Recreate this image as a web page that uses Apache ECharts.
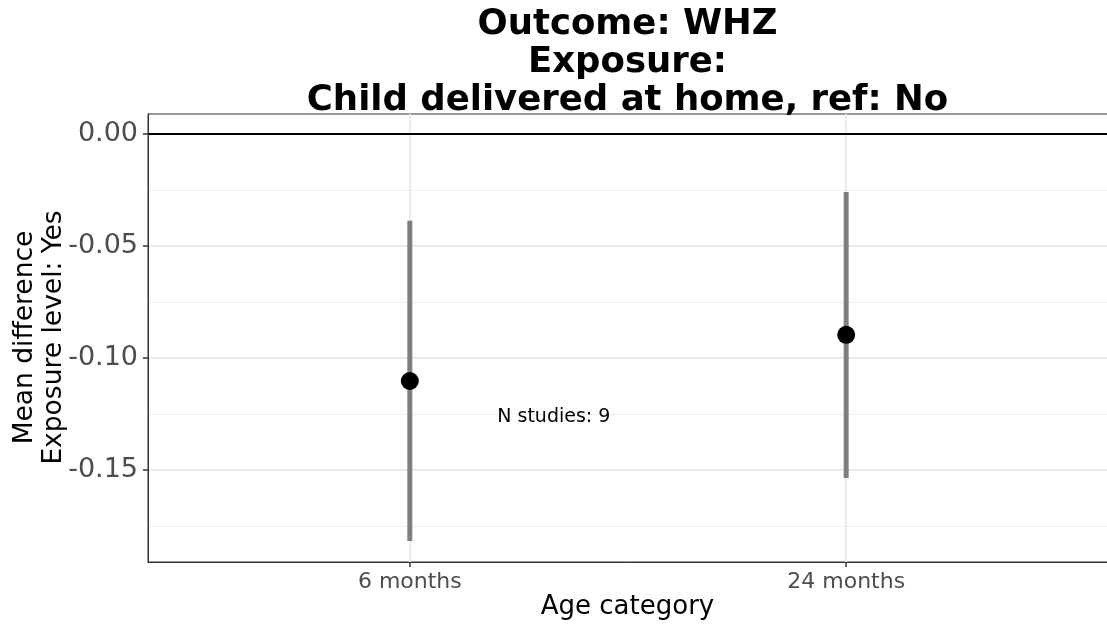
<!DOCTYPE html>
<html><head><meta charset="utf-8">
<script src="https://cdn.jsdelivr.net/npm/echarts@6/dist/echarts.min.js"></script>
<style>html,body{margin:0;padding:0;background:#fff}#c{width:1107px;height:626px}</style>
</head><body><div id="c"></div>
<script>
// ---- data ----
const categories = ['6 months', '24 months'];
const categoryPositions = [1, 2];
const pointEstimates = [-0.1103, -0.0897];
const ciLower = [-0.1817, -0.1536];
const ciUpper = [-0.0388, -0.0259];
const yTickValues = [0, -0.05, -0.10, -0.15];
const yMinorValues = [-0.025, -0.075, -0.125, -0.175];
const referenceLine = [0];
const annotationText = 'N studies: 9';
const annotationPos = [1.33, -0.1262];
const titleLines = ['Outcome: WHZ', 'Exposure:', 'Child delivered at home, ref: No'];
const yAxisTitleLines = ['Mean difference', 'Exposure level: Yes'];
const xAxisTitle = 'Age category';

const FONT = 'DejaVu Sans';
const chart = echarts.init(document.getElementById('c'), null, {renderer: 'canvas'});

const option = {
  backgroundColor: '#ffffff',
  animation: false,
  grid: {
    left: 148, right: -1, top: 114, bottom: 64,
    show: true, borderColor: '#333333', borderWidth: 1, backgroundColor: '#ffffff',
    containLabel: false, outerBoundsMode: 'none'
  },
  xAxis: {
    type: 'value', min: 0.4, max: 2.6, z: 10,
    axisLine: {show: true, onZero: false, lineStyle: {color: '#333333', width: 1}},
    axisTick: {show: true, inside: false, length: 5, customValues: categoryPositions, lineStyle: {color: '#333333', width: 1.5}},
    axisLabel: {show: true, customValues: categoryPositions, margin: 9,
      formatter: v => categories[categoryPositions.indexOf(v)] || '',
      color: '#4d4d4d', fontFamily: FONT, fontSize: 22},
    splitLine: {show: false}, minorSplitLine: {show: false}
  },
  yAxis: {
    type: 'value', min: -0.1911, max: 0.0089, z: 10,
    axisLine: {show: true, onZero: false, lineStyle: {color: '#333333', width: 1}},
    axisTick: {show: true, inside: false, length: 5, customValues: yTickValues, lineStyle: {color: '#333333', width: 1.5}},
    axisLabel: {show: true, customValues: yTickValues, margin: 10,
      formatter: v => v.toFixed(2),
      color: '#4d4d4d', fontFamily: FONT, fontSize: 27},
    splitLine: {show: false}, minorSplitLine: {show: false}
  },
  graphic: [
    {type: 'text', x: 627.5, y: 63, z: 100,
      style: {text: titleLines.join('\n'), fontFamily: FONT, fontWeight: 'bold', fontSize: 35.5,
        lineHeight: 38, align: 'center', verticalAlign: 'middle', fill: '#000000'}},
    {type: 'text', x: 40, y: 337.5, rotation: Math.PI / 2, z: 100,
      style: {text: yAxisTitleLines.join('\n'), fontFamily: FONT, fontSize: 26.5,
        lineHeight: 29, align: 'center', verticalAlign: 'middle', fill: '#000000'}},
    {type: 'text', x: 627.5, y: 607, z: 100,
      style: {text: xAxisTitle, fontFamily: FONT, fontSize: 26,
        align: 'center', verticalAlign: 'middle', fill: '#000000'}}
  ],
  series: [
    { // minor grid
      type: 'line', data: [], z: 1, silent: true,
      markLine: {silent: true, symbol: 'none', label: {show: false}, animation: false, precision: 4, z: 1,
        lineStyle: {color: '#f0f0f0', width: 1, type: 'solid'},
        data: yMinorValues.map(v => ({yAxis: v}))}
    },
    { // major grid
      type: 'line', data: [], z: 1, silent: true,
      markLine: {silent: true, symbol: 'none', label: {show: false}, animation: false, precision: 4, z: 1,
        lineStyle: {color: '#ebebeb', width: 2, type: 'solid'},
        data: yTickValues.map(v => ({yAxis: v})).concat(categoryPositions.map(v => ({xAxis: v})))}
    },
    { // reference line
      type: 'line', data: [], z: 2, silent: true,
      markLine: {silent: true, symbol: 'none', label: {show: false}, animation: false, precision: 4, z: 2,
        lineStyle: {color: '#000000', width: 2, type: 'solid'},
        data: referenceLine.map(v => ({yAxis: v}))}
    },
    { // error bars
      type: 'custom', z: 10, silent: true,
      data: categoryPositions.map((x, i) => [x, ciLower[i], ciUpper[i]]),
      renderItem: function (params, api) {
        const x = api.value(0), lo = api.value(1), hi = api.value(2);
        const p1 = api.coord([x, hi]), p2 = api.coord([x, lo]);
        return {type: 'line', shape: {x1: p1[0], y1: p1[1], x2: p2[0], y2: p2[1]},
          style: {stroke: '#7f7f7f', lineWidth: 5}};
      }
    },
    { // points
      type: 'scatter', z: 11, silent: true, symbol: 'circle', symbolSize: 18,
      itemStyle: {color: '#000000', opacity: 1},
      data: categoryPositions.map((x, i) => [x, pointEstimates[i]])
    },
    { // annotation
      type: 'scatter', z: 12, silent: true, symbolSize: 0,
      data: [annotationPos],
      label: {show: true, position: 'inside', formatter: annotationText,
        color: '#000000', opacity: 1, fontFamily: FONT, fontSize: 19}
    }
  ]
};
chart.setOption(option);
</script>
</body></html>
